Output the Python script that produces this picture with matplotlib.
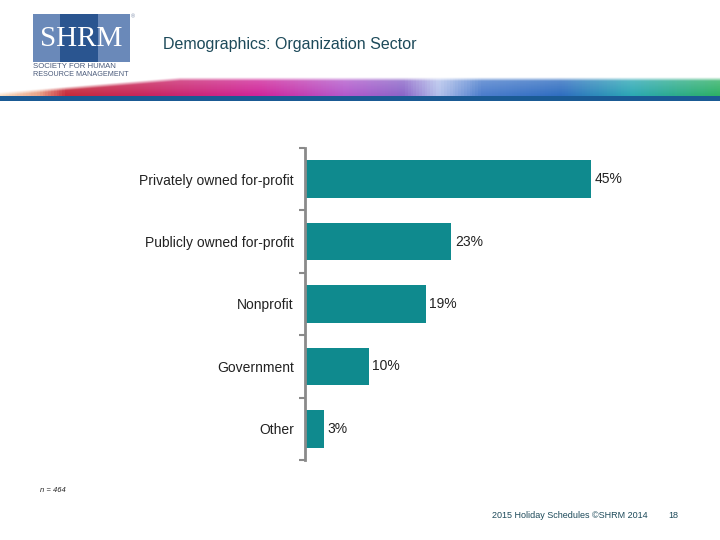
import numpy as np
import matplotlib
matplotlib.use("Agg")
import matplotlib.pyplot as plt
from matplotlib.patches import Rectangle
from matplotlib.colors import LinearSegmentedColormap

categories = ["Privately owned for-profit", "Publicly owned for-profit",
              "Nonprofit", "Government", "Other"]
values = [45, 23, 19, 10, 3]
title = "Demographics: Organization Sector"
note = "n = 464"
footer = "2015 Holiday Schedules \u00a9SHRM 2014"
page = "18"

bar_color = "#0f8a8e"
text_dark = "#1d4a5a"
plt.rcParams["font.family"] = ["Liberation Sans", "DejaVu Sans"]

W, H = 720, 540
fig = plt.figure(figsize=(7.2, 5.4), dpi=100)

def fx(px):
    return px / W

def fy(py):
    return 1 - py / H

# --- header: banner swoosh ---
ban = fig.add_axes([0, fy(101), 1, fy(76) - fy(101)])
ban.set_xlim(0, W)
ban.set_ylim(101, 76)
ban.axis("off")
stops = [(0.0, "#f8dcc0"), (0.05, "#eaa488"), (0.09, "#c62a3a"), (0.2, "#c8245c"),
         (0.36, "#d0249a"), (0.48, "#b258cc"), (0.56, "#8a64c8"), (0.61, "#b4c2ec"),
         (0.67, "#4a7ccc"), (0.78, "#2e6cc0"), (0.88, "#2aa8b4"), (1.0, "#2cb064")]
cmap = LinearSegmentedColormap.from_list("swoosh", stops)
nx, ny = 720, 40
gx = np.linspace(0, 1, nx)
rgba = cmap(np.tile(gx, (ny, 1)))
yy = np.linspace(0, 1, ny)[:, None]
top_edge = np.clip(0.8 - 0.8 * gx / 0.25, 0, 1)[None, :]
alpha = np.clip((yy - top_edge) * 5, 0, 1) * (0.75 + 0.25 * yy)
rgba[..., 3] = alpha
ban.imshow(rgba, extent=[0, W, 96, 77], aspect="auto", interpolation="bilinear")
ban.add_patch(Rectangle((0, 96), W, 5, color="#1a5a94", lw=0))

# --- logo and page text ---
logo = fig.add_axes([0, 0, 1, 1], facecolor="none")
logo.set_xlim(0, W)
logo.set_ylim(H, 0)
logo.axis("off")
logo.add_patch(Rectangle((33, 14), 97, 48, color="#6a89b9", lw=0))
logo.add_patch(Rectangle((60, 14), 38, 48, color="#2a5590", lw=0))
logo.text(81, 39, "SHRM", color="white", fontsize=21, family="Liberation Serif",
          ha="center", va="center")
logo.text(133, 17, "\u00ae", color="#7a8aa8", fontsize=4, ha="center", va="center")
logo.text(33, 67, "SOCIETY FOR HUMAN", color="#4a5a7a", fontsize=5.6, va="center")
logo.text(33, 74, "RESOURCE MANAGEMENT", color="#4a5a7a", fontsize=5.2, va="center")
logo.text(163, 44, title, color=text_dark, fontsize=11.5, va="center")
logo.text(40, 490, note, color="#222222", fontsize=5.5, style="italic", va="center")
logo.text(648, 515, footer, color=text_dark, fontsize=6.5, ha="right", va="center")
logo.text(668, 515, page, color=text_dark, fontsize=6.5, va="center")

# --- bar chart ---
ax = fig.add_axes([fx(305), fy(460), fx(686) - fx(305), fy(148) - fy(460)])
y = np.arange(len(categories))
ax.barh(y, values, height=0.6, color=bar_color)
ax.set_xlim(0, 60)
ax.set_ylim(len(categories) - 0.5, -0.5)
for yi, v in zip(y, values):
    ax.text(v + 0.6, yi, f"{v}%", va="center", ha="left", fontsize=10, color="#222222")
ax.set_yticks(y)
ax.set_yticklabels(categories, fontsize=10, color="#222222")
ax.set_yticks(np.arange(len(categories) + 1) - 0.5, minor=True)
ax.tick_params(axis="y", which="major", length=0, pad=8)
ax.tick_params(axis="y", which="minor", length=4, width=1.5, color="#8a8a8a", direction="out")
ax.set_xticks([])
for s in ["top", "right", "bottom"]:
    ax.spines[s].set_visible(False)
ax.spines["left"].set_color("#8a8a8a")
ax.spines["left"].set_linewidth(2)

fig.savefig("out.png", dpi=100)
